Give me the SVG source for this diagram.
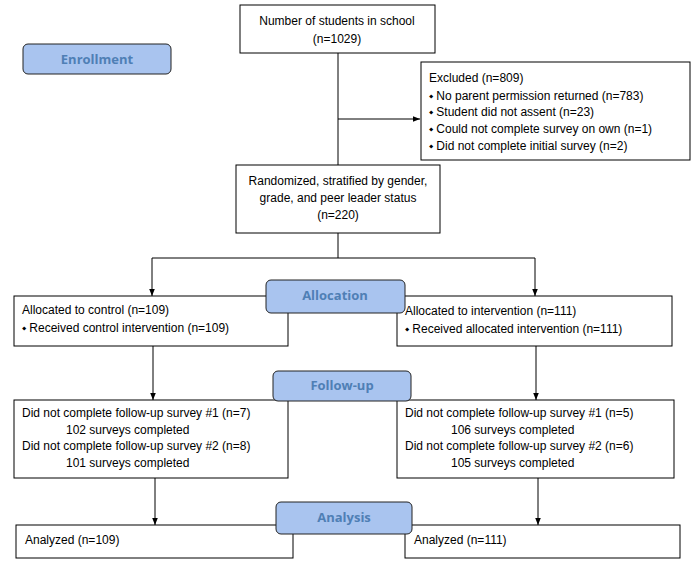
<svg xmlns="http://www.w3.org/2000/svg" width="700" height="565" viewBox="0 0 700 565">
<style>
.b{fill:#fff;stroke:#000;stroke-width:1}
.p{fill:#a9c4ef;stroke:#222;stroke-width:1}
.t{font-family:"Liberation Sans",Arial,sans-serif;font-size:12px;fill:#000}
.pt{font-family:"Open Sans","DejaVu Sans",sans-serif;font-size:13px;font-weight:bold;fill:#4f7fb5;text-anchor:middle}
.c{stroke:#000;stroke-width:1;fill:none}
</style>
<defs><marker id="a" viewBox="0 0 10 10" refX="10" refY="5" markerWidth="7" markerHeight="7" orient="auto"><path d="M0,1 L10,5 L0,9 z" fill="#000"/></marker></defs>
<rect width="700" height="565" fill="#fff"/>
<g id="connectors">
<path class="c" d="M338,53 V165"/>
<path class="c" d="M338,119 H420" marker-end="url(#a)"/>
<path class="c" d="M338,233 V258" />
<path class="c" d="M152,258 H535"/>
<path class="c" d="M152,258 V296" marker-end="url(#a)"/>
<path class="c" d="M535,258 V296" marker-end="url(#a)"/>
<path class="c" d="M153,346 V400" marker-end="url(#a)"/>
<path class="c" d="M536,346 V400" marker-end="url(#a)"/>
<path class="c" d="M155,478 V525" marker-end="url(#a)"/>
<path class="c" d="M538,478 V525" marker-end="url(#a)"/>
</g>
<g id="enroll"><rect class="p" x="23" y="44" width="148" height="30" rx="5"/><text class="pt" x="97" y="64">Enrollment</text></g>
<g id="school"><rect class="b" x="240" y="5" width="195" height="48"/><text class="t" text-anchor="middle" x="337" y="25">Number of students in school</text><text class="t" text-anchor="middle" x="337" y="43">(n=1029)</text></g>
<g id="excluded"><rect class="b" x="421" y="62" width="269" height="98"/>
<text class="t" x="429" y="82">Excluded (n=809)</text>
<text class="t" x="429" y="100">⬩ No parent permission returned (n=783)</text>
<text class="t" x="429" y="116">⬩ Student did not assent (n=23)</text>
<text class="t" x="429" y="133">⬩ Could not complete survey on own (n=1)</text>
<text class="t" x="429" y="150">⬩ Did not complete initial survey (n=2)</text></g>
<g id="random"><rect class="b" x="236" y="165" width="204" height="68"/>
<text class="t" text-anchor="middle" x="338" y="185">Randomized, stratified by gender,</text>
<text class="t" text-anchor="middle" x="338" y="202">grade, and peer leader status</text>
<text class="t" text-anchor="middle" x="338" y="219">(n=220)</text></g>
<g id="ctrl"><rect class="b" x="14" y="296" width="274" height="50"/>
<text class="t" x="22" y="314">Allocated to control (n=109)</text>
<text class="t" x="22" y="332">⬩ Received control intervention (n=109)</text></g>
<g id="intv"><rect class="b" x="397" y="296" width="275" height="50"/>
<text class="t" x="405" y="315">Allocated to intervention (n=111)</text>
<text class="t" x="405" y="333">⬩ Received allocated intervention (n=111)</text></g>
<g id="alloc"><rect class="p" x="266" y="280" width="139" height="33" rx="5"/><text class="pt" x="335" y="300">Allocation</text></g>
<g id="fuL"><rect class="b" x="14" y="400" width="274" height="78"/>
<text class="t" x="22" y="417">Did not complete follow-up survey #1 (n=7)</text>
<text class="t" x="66" y="434">102 surveys completed</text>
<text class="t" x="22" y="450">Did not complete follow-up survey #2 (n=8)</text>
<text class="t" x="66" y="467">101 surveys completed</text></g>
<g id="fuR"><rect class="b" x="397" y="400" width="277" height="78"/>
<text class="t" x="405" y="417">Did not complete follow-up survey #1 (n=5)</text>
<text class="t" x="451" y="434">106 surveys completed</text>
<text class="t" x="405" y="450">Did not complete follow-up survey #2 (n=6)</text>
<text class="t" x="451" y="467">105 surveys completed</text></g>
<g id="follow"><rect class="p" x="273" y="371" width="138" height="30" rx="5"/><text class="pt" x="342" y="390">Follow-up</text></g>
<g id="anL"><rect class="b" x="16" y="525" width="277" height="33"/><text class="t" x="25" y="544">Analyzed (n=109)</text></g>
<g id="anR"><rect class="b" x="405" y="525" width="275" height="33"/><text class="t" x="414" y="544">Analyzed (n=111)</text></g>
<g id="analysis"><rect class="p" x="276" y="502" width="136" height="32" rx="5"/><text class="pt" x="344" y="522">Analysis</text></g>
</svg>
